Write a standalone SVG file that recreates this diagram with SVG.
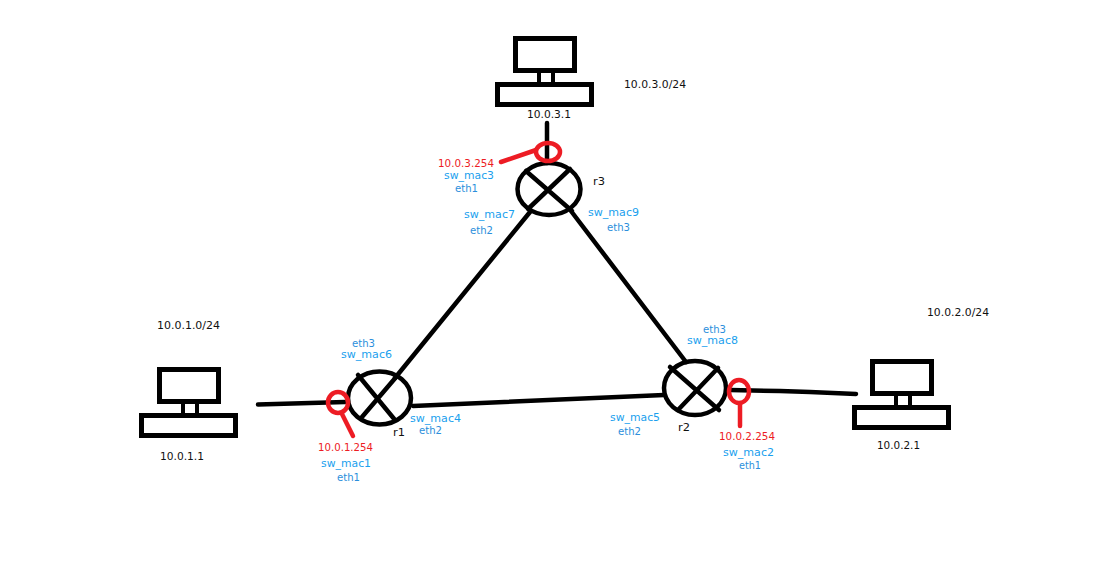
<svg xmlns="http://www.w3.org/2000/svg" width="1100" height="573" viewBox="0 0 1100 573">
<style>
text{font-family:"DejaVu Sans","Liberation Sans",sans-serif;font-size:11px;text-anchor:middle}
.k{fill:#111}
.r{fill:#ed1c24}
.m{fill:#1a9fee}
.e{fill:#2b8fdc}
.w{fill:none;stroke:#000;stroke-width:4.500;stroke-linecap:round}
.c{fill:none;stroke:#000;stroke-width:4.500}
.s{fill:none;stroke:#000;stroke-width:5}
.red{fill:none;stroke:#ed1c24;stroke-width:4.500;stroke-linecap:round}
.stem{fill:none;stroke:#000;stroke-width:4}
</style>
<defs>
<g id="pc">
<rect class="s" x="2.500" y="2.500" width="59" height="32"/>
<path class="stem" d="M26 37V46M40 37V46"/>
<rect class="s" x="-15.500" y="48.500" width="94" height="20"/>
</g>
</defs>
<rect width="1100" height="573" fill="#fff"/>
<g id="connectors">
<path class="w" d="M258 404.500L345 402"/>
<path class="w" d="M413 406L664 395"/>
<path class="w" d="M730 390L780 391L810 392L856 394"/>
<path class="w" d="M395 378L530 212"/>
<path class="w" d="M571 211L686 362"/>
</g>
<g id="pc3"><use href="#pc" x="513" y="36"/><text class="k" x="549" y="118" textLength="44" lengthAdjust="spacingAndGlyphs">10.0.3.1</text><text class="k" x="655" y="88" textLength="62" lengthAdjust="spacingAndGlyphs">10.0.3.0/24</text></g>
<g id="pc1"><use href="#pc" x="157" y="367"/><text class="k" x="182" y="460" textLength="44" lengthAdjust="spacingAndGlyphs">10.0.1.1</text><text class="k" x="188.500" y="329" textLength="63" lengthAdjust="spacingAndGlyphs">10.0.1.0/24</text></g>
<g id="pc2"><use href="#pc" x="870" y="359"/><text class="k" x="898.500" y="449" textLength="43" lengthAdjust="spacingAndGlyphs">10.0.2.1</text><text class="k" x="958" y="316" textLength="62" lengthAdjust="spacingAndGlyphs">10.0.2.0/24</text></g>
<g id="r3">
<ellipse class="c" cx="549" cy="189" rx="31.500" ry="26"/>
<path class="w" d="M526 171L572 211M570 169L528 209"/>
<text class="k" x="599" y="185" textLength="12" lengthAdjust="spacingAndGlyphs">r3</text>
<path class="w" d="M547 123V163"/>
<ellipse class="red" cx="548" cy="152" rx="12" ry="9"/>
<path class="red" d="M501 162L536 150"/>
<text class="r" x="466" y="167" textLength="56" lengthAdjust="spacingAndGlyphs">10.0.3.254</text>
<text class="m" x="469" y="179" textLength="50" lengthAdjust="spacingAndGlyphs">sw_mac3</text>
<text class="e" x="466.500" y="192" textLength="23" lengthAdjust="spacingAndGlyphs">eth1</text>
<text class="m" x="489.500" y="218" textLength="51" lengthAdjust="spacingAndGlyphs">sw_mac7</text>
<text class="e" x="481.500" y="234" textLength="23" lengthAdjust="spacingAndGlyphs">eth2</text>
<text class="m" x="613.500" y="216" textLength="51" lengthAdjust="spacingAndGlyphs">sw_mac9</text>
<text class="e" x="618.500" y="231" textLength="23" lengthAdjust="spacingAndGlyphs">eth3</text>
</g>
<g id="r1">
<ellipse class="c" cx="379.500" cy="398" rx="31.500" ry="26.500"/>
<path class="w" d="M358 375L395 420M362 417L397 376"/>
<text class="k" x="399" y="436" textLength="12" lengthAdjust="spacingAndGlyphs">r1</text>
<ellipse class="red" cx="338" cy="402.500" rx="10" ry="10.500"/>
<path class="red" d="M342 414L353 436"/>
<text class="r" x="345.500" y="451" textLength="55" lengthAdjust="spacingAndGlyphs">10.0.1.254</text>
<text class="m" x="346" y="467" textLength="50" lengthAdjust="spacingAndGlyphs">sw_mac1</text>
<text class="e" x="348.500" y="481" textLength="23" lengthAdjust="spacingAndGlyphs">eth1</text>
<text class="e" x="363.500" y="347" textLength="23" lengthAdjust="spacingAndGlyphs">eth3</text>
<text class="m" x="366.500" y="358" textLength="51" lengthAdjust="spacingAndGlyphs">sw_mac6</text>
<text class="m" x="435.500" y="422" textLength="51" lengthAdjust="spacingAndGlyphs">sw_mac4</text>
<text class="e" x="430.500" y="434" textLength="23" lengthAdjust="spacingAndGlyphs">eth2</text>
</g>
<g id="r2">
<ellipse class="c" cx="695" cy="388" rx="31" ry="27"/>
<path class="w" d="M670 367L719 410M718 368L678 410"/>
<text class="k" x="684" y="431" textLength="12" lengthAdjust="spacingAndGlyphs">r2</text>
<ellipse class="red" cx="739" cy="391.500" rx="10" ry="11.500"/>
<path class="red" d="M740 404V426"/>
<text class="r" x="747" y="440" textLength="56" lengthAdjust="spacingAndGlyphs">10.0.2.254</text>
<text class="m" x="748.500" y="456" textLength="51" lengthAdjust="spacingAndGlyphs">sw_mac2</text>
<text class="e" x="750" y="469" textLength="22" lengthAdjust="spacingAndGlyphs">eth1</text>
<text class="m" x="635" y="421" textLength="50" lengthAdjust="spacingAndGlyphs">sw_mac5</text>
<text class="e" x="629.500" y="435" textLength="23" lengthAdjust="spacingAndGlyphs">eth2</text>
<text class="e" x="714.500" y="333" textLength="23" lengthAdjust="spacingAndGlyphs">eth3</text>
<text class="m" x="712.500" y="344" textLength="51" lengthAdjust="spacingAndGlyphs">sw_mac8</text>
</g>
</svg>
